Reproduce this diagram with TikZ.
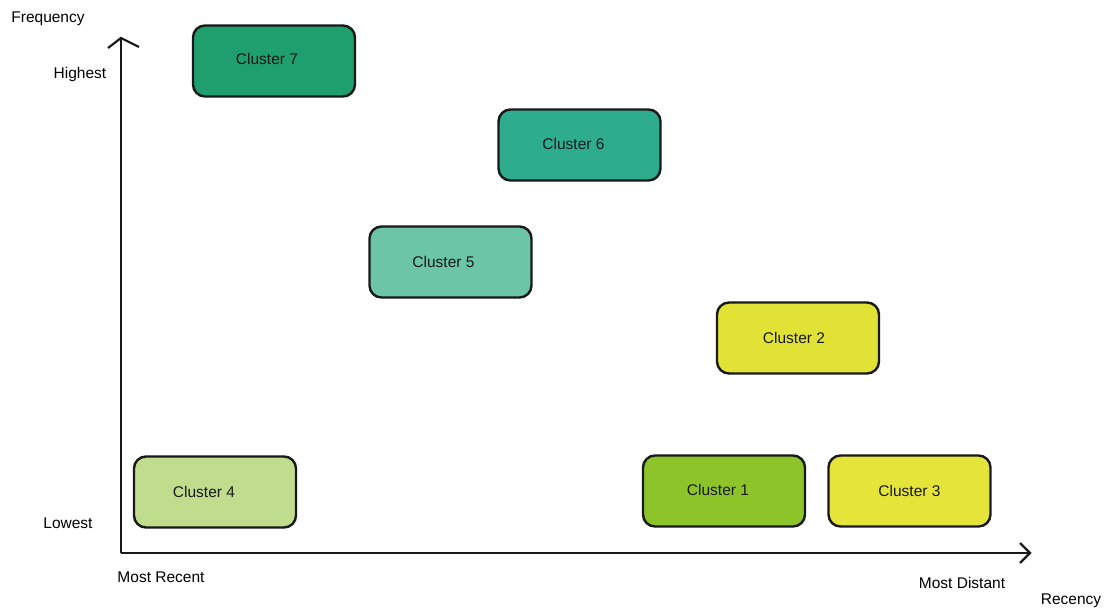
\documentclass[tikz,border=0pt]{standalone}
\usepackage{fontspec}
\setmainfont{Liberation Sans}
\begin{document}
\begin{tikzpicture}[x=1pt,y=-1pt,
  cbox/.style={draw=black!90, line width=2.4pt, rounded corners=12pt, minimum width=162pt, minimum height=71pt, inner sep=0pt, font=\fontsize{15.5}{18}\selectfont, text=black!90},
  axis/.style={draw=black!90, line width=2pt},
  chev/.style={draw=black!90, line width=2.2pt, line join=miter},
  lbl/.style={font=\fontsize{15.5}{18}\selectfont, text=black, inner sep=0pt}]
\definecolor{c7}{HTML}{1F9E6E}
\definecolor{c6}{HTML}{2EAD8E}
\definecolor{c5}{HTML}{6DC5A8}
\definecolor{c2}{HTML}{E0E236}
\definecolor{c3}{HTML}{E4E43A}
\definecolor{c1}{HTML}{8DC42A}
\definecolor{c4}{HTML}{BFDD8C}
\newcommand{\shl}[3]{\raisebox{#2pt}{\hspace*{-#1pt}#3}}
\useasboundingbox (0,0) rectangle (1111,608);
\fill[white] (0,0) rectangle (1111,608);
% axes
\coordinate (o) at (121,553);
\coordinate (ytop) at (121,38);
\coordinate (xend) at (1030,553);
\draw[axis] (o) -- (ytop);
\draw[axis] (o) -- (xend);
\coordinate (ya) at (108,48);
\coordinate (yb) at (139,47);
\draw[chev] (ya) -- (ytop) -- (yb);
\coordinate (xa) at (1020,543);
\coordinate (xb) at (1020,563);
\draw[chev] (xa) -- (xend) -- (xb);
% labels
\node[lbl] (freq) at (48,19) {Frequency};
\node[lbl] (hi) at (80,74) {Highest};
\node[lbl] (lo) at (68,523) {Lowest};
\node[lbl] (mr) at (161,577) {Most Recent};
\node[lbl] (md) at (962,583) {Most Distant};
\node[lbl] (rec) at (1071,601) {Recency};
% clusters
\node[cbox, fill=c7] (k7) at (274,61) {\shl{14}{4}{Cluster 7}};
\node[cbox, fill=c6] (k6) at (579.5,145) {\shl{12}{2}{Cluster 6}};
\node[cbox, fill=c5] (k5) at (450.5,262) {\shl{14}{1}{Cluster 5}};
\node[cbox, fill=c2] (k2) at (798,338) {\shl{8}{1}{Cluster 2}};
\node[cbox, fill=c4] (k4) at (215,492) {\shl{22}{0}{Cluster 4}};
\node[cbox, fill=c1] (k1) at (724,491) {\shl{12}{3}{Cluster 1}};
\node[cbox, fill=c3] (k3) at (909.5,491) {\shl{0}{1}{Cluster 3}};
\end{tikzpicture}
\end{document}
